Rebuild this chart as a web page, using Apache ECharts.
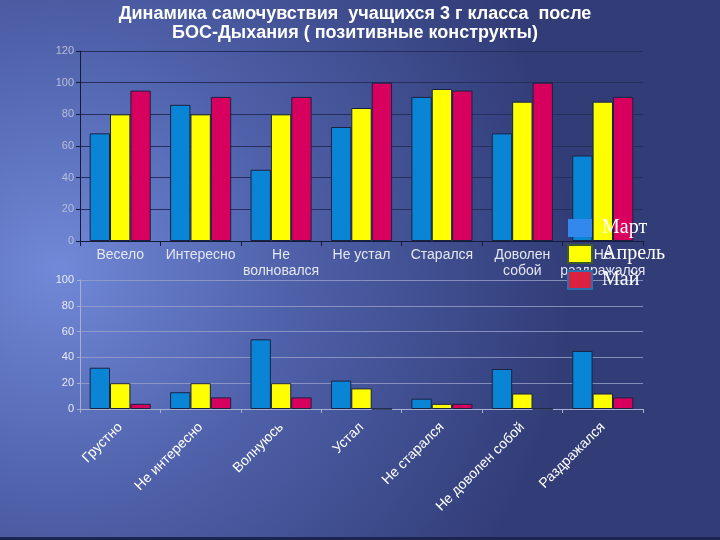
<!DOCTYPE html>
<html><head><meta charset="utf-8">
<script src="https://cdn.jsdelivr.net/npm/echarts@6/dist/echarts.min.js"></script>
<style>html,body{margin:0;padding:0;}#c{width:720px;height:540px;}</style>
</head><body><div id="c"></div>
<script>
const seriesNames = ['Март', 'Апрель', 'Май'];
const topCategories = ['Весело', 'Интересно', 'Не\nволновался', 'Не устал', 'Старался', 'Доволен\nсобой', 'Не\nраздражался'];
const topMarch = [68, 86, 45, 72, 91, 68, 54];
const topApril = [80, 80, 80, 84, 96, 88, 88];
const topMay = [95, 91, 91, 100, 95, 100, 91];
const topTicks = [0, 20, 40, 60, 80, 100, 120];

const bottomCategories = ['Грустно', 'Не интересно', 'Волнуюсь', 'Устал', 'Не старался', 'Не доволен собой', 'Раздражался'];
const bottomMarch = [32, 13, 54, 22, 8, 31, 45];
const bottomApril = [20, 20, 20, 16, 4, 12, 12];
const bottomMay = [4, 9, 9, 0, 4, 0, 9];
const bottomTicks = [0, 20, 40, 60, 80, 100];

const colors = ['#0a84d4', '#ffff00', '#d8005e'];
const chart = echarts.init(document.getElementById('c'), null, {renderer: 'canvas'});

function bars(name, data, idx, color) {
  return {
    name: name, type: 'bar', data: data, xAxisIndex: idx, yAxisIndex: idx,
    barGap: '0%', barCategoryGap: '24%',
    itemStyle: {color: color, borderColor: '#1a2244', borderWidth: 1},
    emphasis: {disabled: true}
  };
}

chart.setOption({
  animation: false,
  backgroundColor: {
    type: 'radial', x: 0.08, y: 0.5, r: 0.95,
    colorStops: [{offset: 0, color: '#7189d8'}, {offset: 0.45, color: '#4f61aa'}, {offset: 1, color: '#323d78'}]
  },
  title: {
    text: 'Динамика самочувствия  учащихся 3 г класса  после\nБОС-Дыхания ( позитивные конструкты)',
    left: 350, top: 0, textAlign: 'center',
    textStyle: {color: '#ffffff', fontFamily: 'Liberation Sans, Arial', fontWeight: 'bold', fontSize: 18, lineHeight: 19}
  },
  legend: {
    orient: 'vertical', left: 562, top: 213,
    itemWidth: 24, itemHeight: 18, itemGap: 6,
    textStyle: {color: '#ffffff', fontFamily: 'Liberation Serif, Times New Roman', fontSize: 20, lineHeight: 18, padding: [0, 0, 0, 5]},
    data: [
      {name: 'Март', icon: 'rect', itemStyle: {color: '#3388ee', borderWidth: 0}},
      {name: 'Апрель', icon: 'rect', itemStyle: {color: '#ffff00', borderColor: '#3c5a30', borderWidth: 2}},
      {name: 'Май', icon: 'rect', itemStyle: {color: '#dc2040', borderColor: '#2f6fb0', borderWidth: 2}}
    ]
  },
  grid: [
    {left: 80, right: 77, top: 51, height: 190},
    {left: 80, right: 77, top: 280, height: 129}
  ],
  xAxis: [
    {type: 'category', gridIndex: 0, data: topCategories,
      axisLine: {lineStyle: {color: '#141a38', width: 1}},
      axisTick: {show: true, length: 5, lineStyle: {color: '#141a38'}},
      axisLabel: {interval: 0, color: '#e4e6f0', fontSize: 14, fontFamily: 'Liberation Sans, Arial', margin: 6, lineHeight: 16}},
    {type: 'category', gridIndex: 1, data: bottomCategories,
      axisLine: {lineStyle: {color: '#a8aed0', width: 1}},
      axisTick: {show: true, length: 4, lineStyle: {color: '#a8aed0'}},
      axisLabel: {interval: 0, rotate: 45, color: '#ffffff', fontSize: 14, fontFamily: 'Liberation Sans, Arial', margin: 16}}
  ],
  yAxis: [
    {type: 'value', gridIndex: 0, min: topTicks[0], max: topTicks[topTicks.length - 1], interval: 20,
      axisLine: {show: true, lineStyle: {color: '#141a38'}},
      axisTick: {show: true, length: 4, lineStyle: {color: '#141a38'}},
      splitLine: {lineStyle: {color: '#252e5c', width: 1}},
      axisLabel: {color: '#b8bdd8', fontSize: 11, fontFamily: 'Liberation Sans, Arial', margin: 6}},
    {type: 'value', gridIndex: 1, min: bottomTicks[0], max: bottomTicks[bottomTicks.length - 1], interval: 20,
      axisLine: {show: true, lineStyle: {color: '#a8aed0'}},
      axisTick: {show: true, length: 3, lineStyle: {color: '#a8aed0'}},
      splitLine: {lineStyle: {color: '#98a0c8', width: 1, opacity: 0.8}},
      axisLabel: {color: '#e8eaf4', fontSize: 11, fontFamily: 'Liberation Sans, Arial', margin: 6}}
  ],
  series: [
    bars(seriesNames[0], topMarch, 0, colors[0]),
    bars(seriesNames[1], topApril, 0, colors[1]),
    bars(seriesNames[2], topMay, 0, colors[2]),
    bars(seriesNames[0], bottomMarch, 1, colors[0]),
    bars(seriesNames[1], bottomApril, 1, colors[1]),
    bars(seriesNames[2], bottomMay, 1, colors[2])
  ],
  graphic: [
    {type: 'rect', shape: {x: 0, y: 537, width: 720, height: 3}, style: {fill: '#1c2450'}, z: 100}
  ]
});
</script></body></html>
